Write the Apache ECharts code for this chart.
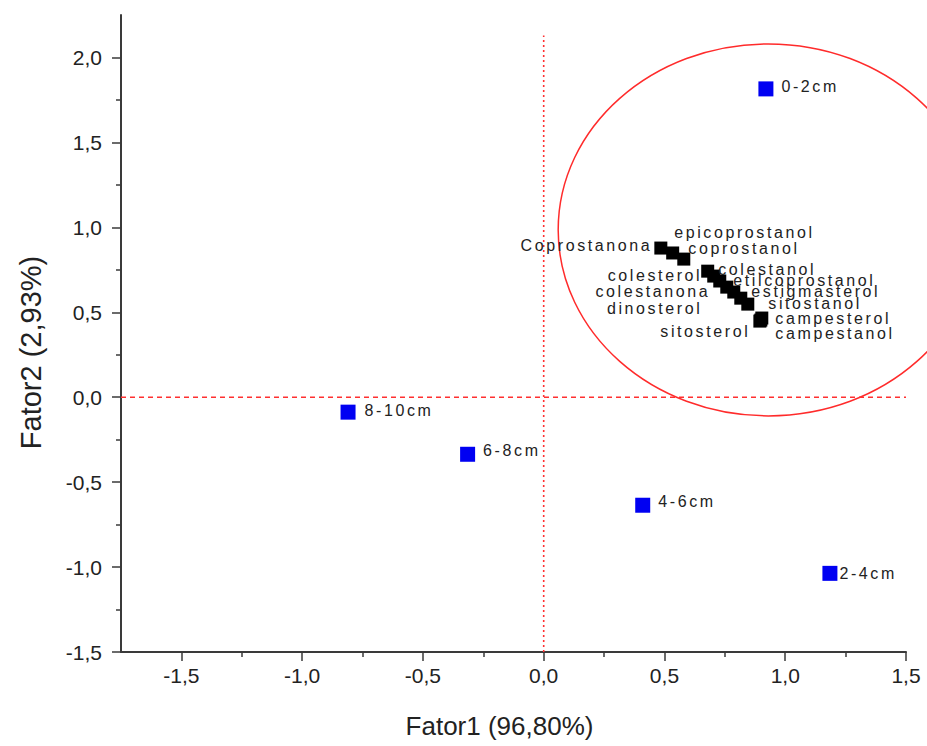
<!DOCTYPE html>
<html>
<head>
<meta charset="utf-8">
<script src="https://cdn.jsdelivr.net/npm/echarts@6/dist/echarts.min.js"></script>
<style>
html, body { margin:0; padding:0; background:#fff; }
#main { width:927px; height:746px; }
/* point labels in the original are widely spaced */
#main text[style*="16px"] { letter-spacing:2.6px; }
</style>
</head>
<body>
<div id="main"></div>
<script>
var xTicks = [-1.5, -1.0, -0.5, 0, 0.5, 1.0, 1.5];
var xMinorTicks = [-1.25, -0.75, -0.25, 0.25, 0.75, 1.25];
var yTicks = [-1.5, -1.0, -0.5, 0, 0.5, 1.0, 1.5, 2.0];
var yMinorTicks = [-1.25, -0.75, -0.25, 0.25, 0.75, 1.25, 1.75];

// amostras (scores)
var sampleNames = ['0-2cm', '2-4cm', '4-6cm', '6-8cm', '8-10cm'];
var sampleX = [0.92, 1.185, 0.41, -0.315, -0.81];
var sampleY = [1.815, -1.037, -0.636, -0.336, -0.088];

// esteróis (loadings)
var compoundNames = ['Coprostanona', 'epicoprostanol', 'coprostanol', 'colestanol', 'colesterol',
	'etilcoprostanol', 'colestanona', 'estigmasterol', 'dinosterol', 'sitostanol',
	'sitosterol', 'campesterol', 'campestanol'];
var compoundX = [0.485, 0.534, 0.580, 0.679, 0.704, 0.729, 0.758, 0.787, 0.816, 0.845, 0.899, 0.903, 0.895];
var compoundY = [0.878, 0.849, 0.813, 0.742, 0.713, 0.684, 0.648, 0.619, 0.583, 0.548, 0.454, 0.466, 0.448];

// elipse destacando o grupo
var ellipseCenter = [0.93, 0.985];
var ellipseRadius = [0.87, 1.095];

// linhas de referência
var zeroLineV = [[0, -1.5], [0, 2.13]];
var zeroLineH = [[-1.75, 0], [1.5, 0]];

// posição dos rótulos: [lado, dx, dy]
var sampleLabels = [['right', 8, -2], ['right', 2, 0], ['right', 8, -4], ['right', 8, -4], ['right', 9, -2]];
var compoundLabels = [
	['left', -2, -3], ['right', -5, -20], ['right', -2, -11], ['right', 4, -2], ['left', -5, -1],
	['right', 7, -1], ['left', -10, 4], ['right', 11, -1], ['left', -32, 10], ['right', 14, -1],
	['left', -4, 11], ['right', 7, 0], ['right', 9, 12]
];

var FONT = 'Liberation Sans';
var AXIS_COLOR = '#3a3a3a';

var fmt = function(v){
	return v.toFixed(1).replace('.', ',');
};

var buildAxis = function(pos, min, max, ticks, minor, name, nameSize, nameGap, namePad){
	return [
		{
			type:'value', position:pos, min:min, max:max,
			axisLine:{show:true, onZero:false, lineStyle:{color:AXIS_COLOR, width:2}},
			axisTick:{show:true, length:9, customValues:ticks, lineStyle:{color:AXIS_COLOR, width:1.5}},
			axisLabel:{customValues:ticks, formatter:fmt, fontSize:21, color:'#222', fontFamily:FONT, margin:pos == 'left' ? 19 : 13},
			splitLine:{show:false},
			name:name, nameLocation:'middle', nameGap:nameGap,
			nameTextStyle:{fontSize:nameSize, color:'#222', fontFamily:FONT, padding:namePad}
		},
		{
			type:'value', position:pos, min:min, max:max,
			axisLine:{show:false, onZero:false},
			axisTick:{show:true, length:5, customValues:minor, lineStyle:{color:AXIS_COLOR, width:1.5}},
			axisLabel:{show:false},
			splitLine:{show:false}
		}
	];
};

var makePoints = function(names, xs, ys, labels){
	return names.map(function(n, i){
		var l = labels[i];
		return {name:n, value:[xs[i], ys[i]], label:{position:l[0], distance:0, offset:[l[1], l[2]]}};
	});
};

var chart = echarts.init(document.getElementById('main'), null, {renderer:'svg'});

chart.setOption({
	animation:false,
	backgroundColor:'#fff',
	grid:{left:121, right:21, top:15, bottom:94, outerBoundsMode:'none'},
	xAxis:buildAxis('bottom', -1.75, 1.5, xTicks, xMinorTicks, 'Fator1 (96,80%)', 26, 61, [0, 28, 0, 0]),
	yAxis:buildAxis('left', -1.5, 2.25, yTicks, yMinorTicks, 'Fator2 (2,93%)', 29, 76, [0, 38, 0, 0]),
	series:[
		{
			type:'custom', xAxisIndex:0, yAxisIndex:0, silent:true, z:1,
			data:[ellipseCenter],
			renderItem:function(params, api){
				var c = api.coord([api.value(0), api.value(1)]);
				var s = api.size(ellipseRadius);
				return {
					type:'ellipse',
					shape:{cx:c[0], cy:c[1], rx:s[0], ry:s[1]},
					style:{fill:'none', stroke:'#ff2b2b', lineWidth:1.5}
				};
			}
		},
		{
			type:'line', xAxisIndex:0, yAxisIndex:0, silent:true, z:1,
			data:zeroLineV, symbol:'none',
			lineStyle:{color:'#ff3030', width:1.6, type:[2, 3]}
		},
		{
			type:'line', xAxisIndex:0, yAxisIndex:0, silent:true, z:1,
			data:zeroLineH, symbol:'none',
			lineStyle:{color:'#ff3030', width:1.5, type:[5, 4]}
		},
		{
			type:'scatter', xAxisIndex:0, yAxisIndex:0, z:3,
			symbol:'rect', symbolSize:15,
			itemStyle:{color:'#0000f2', opacity:1},
			label:{show:true, formatter:'{b}', fontSize:16, color:'#222', fontFamily:FONT},
			data:makePoints(sampleNames, sampleX, sampleY, sampleLabels)
		},
		{
			type:'scatter', xAxisIndex:0, yAxisIndex:0, z:3,
			symbol:'rect', symbolSize:13,
			itemStyle:{color:'#000', opacity:1},
			label:{show:true, formatter:'{b}', fontSize:16, color:'#222', fontFamily:FONT},
			data:makePoints(compoundNames, compoundX, compoundY, compoundLabels)
		}
	]
});
</script>
</body>
</html>
